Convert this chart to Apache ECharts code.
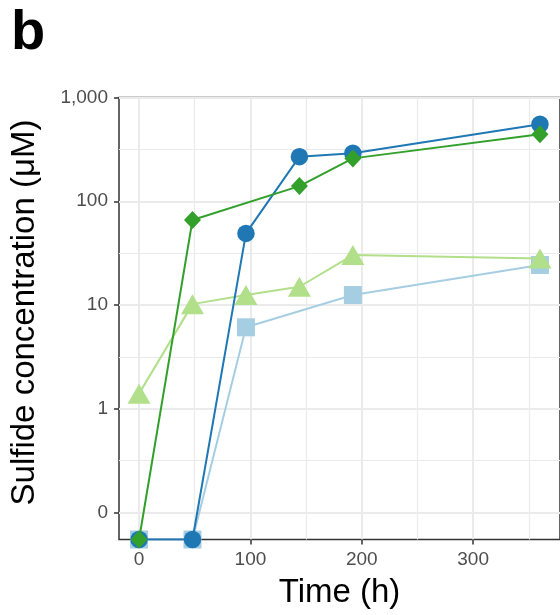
<!DOCTYPE html>
<html>
<head>
<meta charset="utf-8">
<script src="https://cdn.jsdelivr.net/npm/echarts@6/dist/echarts.min.js"></script>
<style>
html,body{margin:0;padding:0;background:#fff;}
#chart{width:560px;height:615px;}
</style>
</head>
<body>
<div id="chart"></div>
<script>
// ---- data ----
const times = [0, 48, 96, 144, 192, 360];
const ND = 0.055; // not detected: drawn at axis floor
const lightBlue  = [ND, ND, 6.1, null, 12.5, 24.3];   // squares
const lightGreen = [1.4, 10.2, 12.5, 15, 30.3, 28.1]; // triangles
const darkBlue   = [ND, ND, 49, 269, 290, 552];       // circles
const darkGreen  = [ND, 66, null, 140, 259, 442];     // diamonds
const xTicks = [0, 100, 200, 300];
const xMinorTicks = [50, 150, 250, 350];
const yTicks = [0.1, 1, 10, 100, 1000];
const yTickLabels = ['0', '1', '10', '100', '1,000'];
const yMinorTicks = [0.316, 3.16, 31.6, 316];

const FONT = 'Liberation Sans, Arial, Helvetica, sans-serif';
const GRID_C = '#EBEBEB';
const DARK = '#333333';

function pairs(vals){ return times.map((t,i)=>[t, vals[i]]); }

const chart = echarts.init(document.getElementById('chart'), null, {renderer:'canvas'});

function mk(name, vals, color, symbol, size, z){
  return {
    name, type:'line', data: pairs(vals), connectNulls:true,
    xAxisIndex:0, yAxisIndex:0,
    symbol, symbolSize:size, showSymbol:true,
    itemStyle:{color, opacity:1}, lineStyle:{color, width:2},
    emphasis:{disabled:true}, z, animation:false, clip:true
  };
}

const option = {
  animation:false,
  graphic:[{type:'text', left:11, top:6, style:{text:'b', font:'bold 56px ' + FONT, fill:'#000'}}],
  grid:{left:118, top:97.5, width:449, height:442, show:true, borderColor:DARK, borderWidth:1.5, backgroundColor:'transparent', containLabel:false},
  xAxis:[{
    type:'value', min:-18, max:378, position:'bottom',
    name:'Time (h)', nameLocation:'middle', nameGap:37,
    nameTextStyle:{fontFamily:FONT, fontSize:33, color:'#000'},
    axisLine:{show:false, onZero:false},
    axisTick:{show:true, length:5, lineStyle:{color:DARK, width:1.5}, customValues:xTicks},
    axisLabel:{show:true, margin:11, fontFamily:FONT, fontSize:19, color:'#4D4D4D', customValues:xTicks},
    splitLine:{show:true, lineStyle:{color:GRID_C, width:2}}
  },{
    type:'value', min:-18, max:378, position:'bottom',
    axisLine:{show:false, onZero:false}, axisLabel:{show:false},
    axisTick:{show:false, customValues:xMinorTicks},
    splitLine:{show:true, lineStyle:{color:GRID_C, width:1.2}}
  }],
  yAxis:[{
    type:'log', logBase:10, min:ND, max:1000, position:'left',
    name:'Sulfide concentration (μM)', nameLocation:'middle', nameGap:78,
    nameTextStyle:{fontFamily:FONT, fontSize:33, color:'#000', padding:[0,0,0,12]},
    axisLine:{show:false, onZero:false},
    axisTick:{show:true, length:5, lineStyle:{color:DARK, width:1.5}, customValues:yTicks},
    axisLabel:{show:true, margin:11, fontFamily:FONT, fontSize:19, color:'#4D4D4D', customValues:yTicks,
      formatter:function(v){ const i = yTicks.findIndex(t=>Math.abs(t-v)/t<1e-6); return i>=0 ? yTickLabels[i] : ''; }},
    splitLine:{show:true, lineStyle:{color:GRID_C, width:2}}
  },{
    type:'log', logBase:10, min:ND, max:1000, position:'left',
    axisLine:{show:false, onZero:false}, axisLabel:{show:false},
    axisTick:{show:false, customValues:yMinorTicks},
    splitLine:{show:true, lineStyle:{color:GRID_C, width:1.2}}
  }],
  series:[
    mk('lightBlue', lightBlue, '#A6CEE3', 'rect', 18, 2),
    mk('lightGreen', lightGreen, '#B2DF8A', 'triangle', [23,20], 3),
    mk('darkBlue', darkBlue, '#1F78B4', 'circle', 17.5, 4),
    mk('darkGreen', darkGreen, '#33A02C', 'diamond', [17,18], 5)
  ]
};
chart.setOption(option);
</script>
</body>
</html>
